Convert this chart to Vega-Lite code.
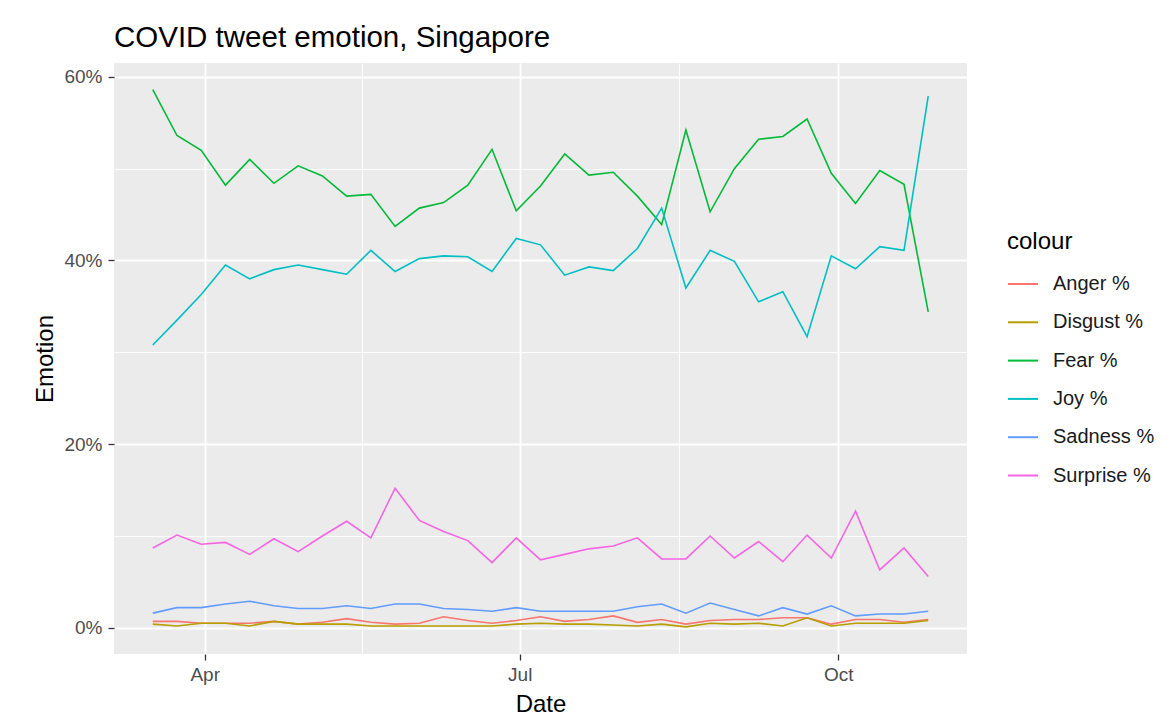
{
  "$schema": "https://vega.github.io/schema/vega-lite/v6.json",
  "width": 853,
  "height": 591,
  "autosize": {"type": "none"},
  "padding": {"left": 114, "top": 63, "right": 201, "bottom": 67},
  "background": "white",
  "title": {
    "text": "COVID tweet emotion, Singapore",
    "anchor": "start",
    "frame": "group",
    "font": "Liberation Sans",
    "fontSize": 29.5,
    "fontWeight": "normal",
    "color": "black",
    "baseline": "bottom",
    "offset": 14,
    "dy": 33
  },
  "config": {
    "view": {"fill": "#EBEBEB", "stroke": null},
    "font": "Liberation Sans",
    "axis": {
      "domain": false,
      "gridColor": "white",
      "tickColor": "#333333",
      "tickWidth": 1.3,
      "tickSize": 6,
      "labelColor": "#4D4D4D",
      "labelFontSize": 19,
      "labelFont": "Liberation Sans",
      "titleFont": "Liberation Sans",
      "titleFontSize": 24,
      "titleFontWeight": "normal",
      "titleColor": "black"
    }
  },
  "data": {
    "values": [
      {"date": "2020-03-17", "emotion": "Anger %", "value": 0.7},
      {"date": "2020-03-24", "emotion": "Anger %", "value": 0.7},
      {"date": "2020-03-31", "emotion": "Anger %", "value": 0.5},
      {"date": "2020-04-07", "emotion": "Anger %", "value": 0.5},
      {"date": "2020-04-14", "emotion": "Anger %", "value": 0.5},
      {"date": "2020-04-21", "emotion": "Anger %", "value": 0.7},
      {"date": "2020-04-28", "emotion": "Anger %", "value": 0.4},
      {"date": "2020-05-05", "emotion": "Anger %", "value": 0.6},
      {"date": "2020-05-12", "emotion": "Anger %", "value": 1.0},
      {"date": "2020-05-19", "emotion": "Anger %", "value": 0.6},
      {"date": "2020-05-26", "emotion": "Anger %", "value": 0.4},
      {"date": "2020-06-02", "emotion": "Anger %", "value": 0.5},
      {"date": "2020-06-09", "emotion": "Anger %", "value": 1.2},
      {"date": "2020-06-16", "emotion": "Anger %", "value": 0.8},
      {"date": "2020-06-23", "emotion": "Anger %", "value": 0.5},
      {"date": "2020-06-30", "emotion": "Anger %", "value": 0.8},
      {"date": "2020-07-07", "emotion": "Anger %", "value": 1.2},
      {"date": "2020-07-14", "emotion": "Anger %", "value": 0.7},
      {"date": "2020-07-21", "emotion": "Anger %", "value": 0.9},
      {"date": "2020-07-28", "emotion": "Anger %", "value": 1.3},
      {"date": "2020-08-04", "emotion": "Anger %", "value": 0.6},
      {"date": "2020-08-11", "emotion": "Anger %", "value": 0.9},
      {"date": "2020-08-18", "emotion": "Anger %", "value": 0.4},
      {"date": "2020-08-25", "emotion": "Anger %", "value": 0.8},
      {"date": "2020-09-01", "emotion": "Anger %", "value": 0.9},
      {"date": "2020-09-08", "emotion": "Anger %", "value": 0.9},
      {"date": "2020-09-15", "emotion": "Anger %", "value": 1.1},
      {"date": "2020-09-22", "emotion": "Anger %", "value": 1.1},
      {"date": "2020-09-29", "emotion": "Anger %", "value": 0.4},
      {"date": "2020-10-06", "emotion": "Anger %", "value": 0.9},
      {"date": "2020-10-13", "emotion": "Anger %", "value": 0.9},
      {"date": "2020-10-20", "emotion": "Anger %", "value": 0.6},
      {"date": "2020-10-27", "emotion": "Anger %", "value": 0.9},

      {"date": "2020-03-17", "emotion": "Disgust %", "value": 0.4},
      {"date": "2020-03-24", "emotion": "Disgust %", "value": 0.2},
      {"date": "2020-03-31", "emotion": "Disgust %", "value": 0.5},
      {"date": "2020-04-07", "emotion": "Disgust %", "value": 0.5},
      {"date": "2020-04-14", "emotion": "Disgust %", "value": 0.2},
      {"date": "2020-04-21", "emotion": "Disgust %", "value": 0.7},
      {"date": "2020-04-28", "emotion": "Disgust %", "value": 0.4},
      {"date": "2020-05-05", "emotion": "Disgust %", "value": 0.4},
      {"date": "2020-05-12", "emotion": "Disgust %", "value": 0.4},
      {"date": "2020-05-19", "emotion": "Disgust %", "value": 0.2},
      {"date": "2020-05-26", "emotion": "Disgust %", "value": 0.2},
      {"date": "2020-06-02", "emotion": "Disgust %", "value": 0.2},
      {"date": "2020-06-09", "emotion": "Disgust %", "value": 0.2},
      {"date": "2020-06-16", "emotion": "Disgust %", "value": 0.2},
      {"date": "2020-06-23", "emotion": "Disgust %", "value": 0.2},
      {"date": "2020-06-30", "emotion": "Disgust %", "value": 0.4},
      {"date": "2020-07-07", "emotion": "Disgust %", "value": 0.5},
      {"date": "2020-07-14", "emotion": "Disgust %", "value": 0.4},
      {"date": "2020-07-21", "emotion": "Disgust %", "value": 0.4},
      {"date": "2020-07-28", "emotion": "Disgust %", "value": 0.3},
      {"date": "2020-08-04", "emotion": "Disgust %", "value": 0.2},
      {"date": "2020-08-11", "emotion": "Disgust %", "value": 0.4},
      {"date": "2020-08-18", "emotion": "Disgust %", "value": 0.1},
      {"date": "2020-08-25", "emotion": "Disgust %", "value": 0.5},
      {"date": "2020-09-01", "emotion": "Disgust %", "value": 0.4},
      {"date": "2020-09-08", "emotion": "Disgust %", "value": 0.5},
      {"date": "2020-09-15", "emotion": "Disgust %", "value": 0.2},
      {"date": "2020-09-22", "emotion": "Disgust %", "value": 1.1},
      {"date": "2020-09-29", "emotion": "Disgust %", "value": 0.2},
      {"date": "2020-10-06", "emotion": "Disgust %", "value": 0.5},
      {"date": "2020-10-13", "emotion": "Disgust %", "value": 0.5},
      {"date": "2020-10-20", "emotion": "Disgust %", "value": 0.5},
      {"date": "2020-10-27", "emotion": "Disgust %", "value": 0.8},

      {"date": "2020-03-17", "emotion": "Fear %", "value": 58.6},
      {"date": "2020-03-24", "emotion": "Fear %", "value": 53.6},
      {"date": "2020-03-31", "emotion": "Fear %", "value": 52.0},
      {"date": "2020-04-07", "emotion": "Fear %", "value": 48.2},
      {"date": "2020-04-14", "emotion": "Fear %", "value": 51.0},
      {"date": "2020-04-21", "emotion": "Fear %", "value": 48.4},
      {"date": "2020-04-28", "emotion": "Fear %", "value": 50.3},
      {"date": "2020-05-05", "emotion": "Fear %", "value": 49.2},
      {"date": "2020-05-12", "emotion": "Fear %", "value": 47.0},
      {"date": "2020-05-19", "emotion": "Fear %", "value": 47.2},
      {"date": "2020-05-26", "emotion": "Fear %", "value": 43.7},
      {"date": "2020-06-02", "emotion": "Fear %", "value": 45.7},
      {"date": "2020-06-09", "emotion": "Fear %", "value": 46.3},
      {"date": "2020-06-16", "emotion": "Fear %", "value": 48.2},
      {"date": "2020-06-23", "emotion": "Fear %", "value": 52.1},
      {"date": "2020-06-30", "emotion": "Fear %", "value": 45.4},
      {"date": "2020-07-07", "emotion": "Fear %", "value": 48.1},
      {"date": "2020-07-14", "emotion": "Fear %", "value": 51.6},
      {"date": "2020-07-21", "emotion": "Fear %", "value": 49.3},
      {"date": "2020-07-28", "emotion": "Fear %", "value": 49.6},
      {"date": "2020-08-04", "emotion": "Fear %", "value": 47.0},
      {"date": "2020-08-11", "emotion": "Fear %", "value": 43.9},
      {"date": "2020-08-18", "emotion": "Fear %", "value": 54.2},
      {"date": "2020-08-25", "emotion": "Fear %", "value": 45.3},
      {"date": "2020-09-01", "emotion": "Fear %", "value": 50.0},
      {"date": "2020-09-08", "emotion": "Fear %", "value": 53.2},
      {"date": "2020-09-15", "emotion": "Fear %", "value": 53.5},
      {"date": "2020-09-22", "emotion": "Fear %", "value": 55.4},
      {"date": "2020-09-29", "emotion": "Fear %", "value": 49.5},
      {"date": "2020-10-06", "emotion": "Fear %", "value": 46.2},
      {"date": "2020-10-13", "emotion": "Fear %", "value": 49.8},
      {"date": "2020-10-20", "emotion": "Fear %", "value": 48.3},
      {"date": "2020-10-27", "emotion": "Fear %", "value": 34.4},

      {"date": "2020-03-17", "emotion": "Joy %", "value": 30.8},
      {"date": "2020-03-24", "emotion": "Joy %", "value": 33.5},
      {"date": "2020-03-31", "emotion": "Joy %", "value": 36.3},
      {"date": "2020-04-07", "emotion": "Joy %", "value": 39.5},
      {"date": "2020-04-14", "emotion": "Joy %", "value": 38.0},
      {"date": "2020-04-21", "emotion": "Joy %", "value": 39.0},
      {"date": "2020-04-28", "emotion": "Joy %", "value": 39.5},
      {"date": "2020-05-05", "emotion": "Joy %", "value": 39.0},
      {"date": "2020-05-12", "emotion": "Joy %", "value": 38.5},
      {"date": "2020-05-19", "emotion": "Joy %", "value": 41.1},
      {"date": "2020-05-26", "emotion": "Joy %", "value": 38.8},
      {"date": "2020-06-02", "emotion": "Joy %", "value": 40.2},
      {"date": "2020-06-09", "emotion": "Joy %", "value": 40.5},
      {"date": "2020-06-16", "emotion": "Joy %", "value": 40.4},
      {"date": "2020-06-23", "emotion": "Joy %", "value": 38.8},
      {"date": "2020-06-30", "emotion": "Joy %", "value": 42.4},
      {"date": "2020-07-07", "emotion": "Joy %", "value": 41.7},
      {"date": "2020-07-14", "emotion": "Joy %", "value": 38.4},
      {"date": "2020-07-21", "emotion": "Joy %", "value": 39.3},
      {"date": "2020-07-28", "emotion": "Joy %", "value": 38.9},
      {"date": "2020-08-04", "emotion": "Joy %", "value": 41.3},
      {"date": "2020-08-11", "emotion": "Joy %", "value": 45.7},
      {"date": "2020-08-18", "emotion": "Joy %", "value": 37.0},
      {"date": "2020-08-25", "emotion": "Joy %", "value": 41.1},
      {"date": "2020-09-01", "emotion": "Joy %", "value": 39.9},
      {"date": "2020-09-08", "emotion": "Joy %", "value": 35.5},
      {"date": "2020-09-15", "emotion": "Joy %", "value": 36.6},
      {"date": "2020-09-22", "emotion": "Joy %", "value": 31.7},
      {"date": "2020-09-29", "emotion": "Joy %", "value": 40.5},
      {"date": "2020-10-06", "emotion": "Joy %", "value": 39.1},
      {"date": "2020-10-13", "emotion": "Joy %", "value": 41.5},
      {"date": "2020-10-20", "emotion": "Joy %", "value": 41.1},
      {"date": "2020-10-27", "emotion": "Joy %", "value": 57.9},

      {"date": "2020-03-17", "emotion": "Sadness %", "value": 1.6},
      {"date": "2020-03-24", "emotion": "Sadness %", "value": 2.2},
      {"date": "2020-03-31", "emotion": "Sadness %", "value": 2.2},
      {"date": "2020-04-07", "emotion": "Sadness %", "value": 2.6},
      {"date": "2020-04-14", "emotion": "Sadness %", "value": 2.9},
      {"date": "2020-04-21", "emotion": "Sadness %", "value": 2.4},
      {"date": "2020-04-28", "emotion": "Sadness %", "value": 2.1},
      {"date": "2020-05-05", "emotion": "Sadness %", "value": 2.1},
      {"date": "2020-05-12", "emotion": "Sadness %", "value": 2.4},
      {"date": "2020-05-19", "emotion": "Sadness %", "value": 2.1},
      {"date": "2020-05-26", "emotion": "Sadness %", "value": 2.6},
      {"date": "2020-06-02", "emotion": "Sadness %", "value": 2.6},
      {"date": "2020-06-09", "emotion": "Sadness %", "value": 2.1},
      {"date": "2020-06-16", "emotion": "Sadness %", "value": 2.0},
      {"date": "2020-06-23", "emotion": "Sadness %", "value": 1.8},
      {"date": "2020-06-30", "emotion": "Sadness %", "value": 2.2},
      {"date": "2020-07-07", "emotion": "Sadness %", "value": 1.8},
      {"date": "2020-07-14", "emotion": "Sadness %", "value": 1.8},
      {"date": "2020-07-21", "emotion": "Sadness %", "value": 1.8},
      {"date": "2020-07-28", "emotion": "Sadness %", "value": 1.8},
      {"date": "2020-08-04", "emotion": "Sadness %", "value": 2.3},
      {"date": "2020-08-11", "emotion": "Sadness %", "value": 2.6},
      {"date": "2020-08-18", "emotion": "Sadness %", "value": 1.6},
      {"date": "2020-08-25", "emotion": "Sadness %", "value": 2.7},
      {"date": "2020-09-01", "emotion": "Sadness %", "value": 2.0},
      {"date": "2020-09-08", "emotion": "Sadness %", "value": 1.3},
      {"date": "2020-09-15", "emotion": "Sadness %", "value": 2.2},
      {"date": "2020-09-22", "emotion": "Sadness %", "value": 1.5},
      {"date": "2020-09-29", "emotion": "Sadness %", "value": 2.4},
      {"date": "2020-10-06", "emotion": "Sadness %", "value": 1.3},
      {"date": "2020-10-13", "emotion": "Sadness %", "value": 1.5},
      {"date": "2020-10-20", "emotion": "Sadness %", "value": 1.5},
      {"date": "2020-10-27", "emotion": "Sadness %", "value": 1.8},

      {"date": "2020-03-17", "emotion": "Surprise %", "value": 8.7},
      {"date": "2020-03-24", "emotion": "Surprise %", "value": 10.1},
      {"date": "2020-03-31", "emotion": "Surprise %", "value": 9.1},
      {"date": "2020-04-07", "emotion": "Surprise %", "value": 9.3},
      {"date": "2020-04-14", "emotion": "Surprise %", "value": 8.0},
      {"date": "2020-04-21", "emotion": "Surprise %", "value": 9.7},
      {"date": "2020-04-28", "emotion": "Surprise %", "value": 8.3},
      {"date": "2020-05-05", "emotion": "Surprise %", "value": 10.0},
      {"date": "2020-05-12", "emotion": "Surprise %", "value": 11.6},
      {"date": "2020-05-19", "emotion": "Surprise %", "value": 9.8},
      {"date": "2020-05-26", "emotion": "Surprise %", "value": 15.2},
      {"date": "2020-06-02", "emotion": "Surprise %", "value": 11.7},
      {"date": "2020-06-09", "emotion": "Surprise %", "value": 10.5},
      {"date": "2020-06-16", "emotion": "Surprise %", "value": 9.5},
      {"date": "2020-06-23", "emotion": "Surprise %", "value": 7.1},
      {"date": "2020-06-30", "emotion": "Surprise %", "value": 9.8},
      {"date": "2020-07-07", "emotion": "Surprise %", "value": 7.4},
      {"date": "2020-07-14", "emotion": "Surprise %", "value": 8.0},
      {"date": "2020-07-21", "emotion": "Surprise %", "value": 8.6},
      {"date": "2020-07-28", "emotion": "Surprise %", "value": 8.9},
      {"date": "2020-08-04", "emotion": "Surprise %", "value": 9.8},
      {"date": "2020-08-11", "emotion": "Surprise %", "value": 7.5},
      {"date": "2020-08-18", "emotion": "Surprise %", "value": 7.5},
      {"date": "2020-08-25", "emotion": "Surprise %", "value": 10.0},
      {"date": "2020-09-01", "emotion": "Surprise %", "value": 7.6},
      {"date": "2020-09-08", "emotion": "Surprise %", "value": 9.4},
      {"date": "2020-09-15", "emotion": "Surprise %", "value": 7.2},
      {"date": "2020-09-22", "emotion": "Surprise %", "value": 10.1},
      {"date": "2020-09-29", "emotion": "Surprise %", "value": 7.6},
      {"date": "2020-10-06", "emotion": "Surprise %", "value": 12.7},
      {"date": "2020-10-13", "emotion": "Surprise %", "value": 6.3},
      {"date": "2020-10-20", "emotion": "Surprise %", "value": 8.7},
      {"date": "2020-10-27", "emotion": "Surprise %", "value": 5.6}
    ]
  },
  "mark": {"type": "line", "strokeWidth": 1.6},
  "encoding": {
    "x": {
      "field": "date",
      "type": "temporal",
      "title": "Date",
      "scale": {
        "type": "utc",
        "domain": [
          {"year": 2020, "month": 3, "date": 5, "hours": 19, "minutes": 12, "utc": true},
          {"year": 2020, "month": 11, "date": 7, "hours": 4, "minutes": 48, "utc": true}
        ],
        "nice": false
      },
      "axis": {
        "values": [
          {"year": 2020, "month": 4, "date": 1, "utc": true},
          {"year": 2020, "month": 5, "date": 16, "hours": 12, "utc": true},
          {"year": 2020, "month": 7, "date": 1, "utc": true},
          {"year": 2020, "month": 8, "date": 16, "utc": true},
          {"year": 2020, "month": 10, "date": 1, "utc": true}
        ],
        "labelExpr": "utcdate(datum.value) == 1 ? utcFormat(datum.value, '%b') : ''",
        "tickOpacity": {"condition": {"test": "utcdate(datum.value) != 1", "value": 0}, "value": 1},
        "gridWidth": {"condition": {"test": "utcdate(datum.value) != 1", "value": 0.9}, "value": 1.8},
        "labelPadding": 5,
        "titlePadding": 8,
        "labelFlush": false,
        "labelOverlap": false
      }
    },
    "y": {
      "field": "value",
      "type": "quantitative",
      "title": "Emotion",
      "scale": {"domain": [-2.85, 61.5], "nice": false, "zero": false},
      "axis": {
        "values": [0, 10, 20, 30, 40, 50, 60],
        "labelExpr": "datum.value % 20 == 0 ? datum.value + '%' : ''",
        "tickOpacity": {"condition": {"test": "datum.value % 20 != 0", "value": 0}, "value": 1},
        "gridWidth": {"condition": {"test": "datum.value % 20 != 0", "value": 0.9}, "value": 1.8},
        "labelPadding": 6,
        "titlePadding": 6,
        "labelFlush": false,
        "labelOverlap": false
      }
    },
    "color": {
      "field": "emotion",
      "type": "nominal",
      "scale": {
        "domain": ["Anger %", "Disgust %", "Fear %", "Joy %", "Sadness %", "Surprise %"],
        "range": ["#F8766D", "#B79F00", "#00BA38", "#00BFC4", "#619CFF", "#F564E3"]
      },
      "legend": {
        "title": "colour",
        "orient": "none",
        "legendX": 893,
        "legendY": 167,
        "padding": 0,
        "titleFontSize": 24,
        "titleFontWeight": "normal",
        "titleColor": "black",
        "titleFont": "Liberation Sans",
        "titlePadding": 14,
        "labelFontSize": 20,
        "labelColor": "#1A1A1A",
        "labelFont": "Liberation Sans",
        "symbolType": "stroke",
        "symbolSize": 900,
        "symbolStrokeWidth": 2,
        "rowPadding": 12.3,
        "labelOffset": 14
      }
    }
  }
}
